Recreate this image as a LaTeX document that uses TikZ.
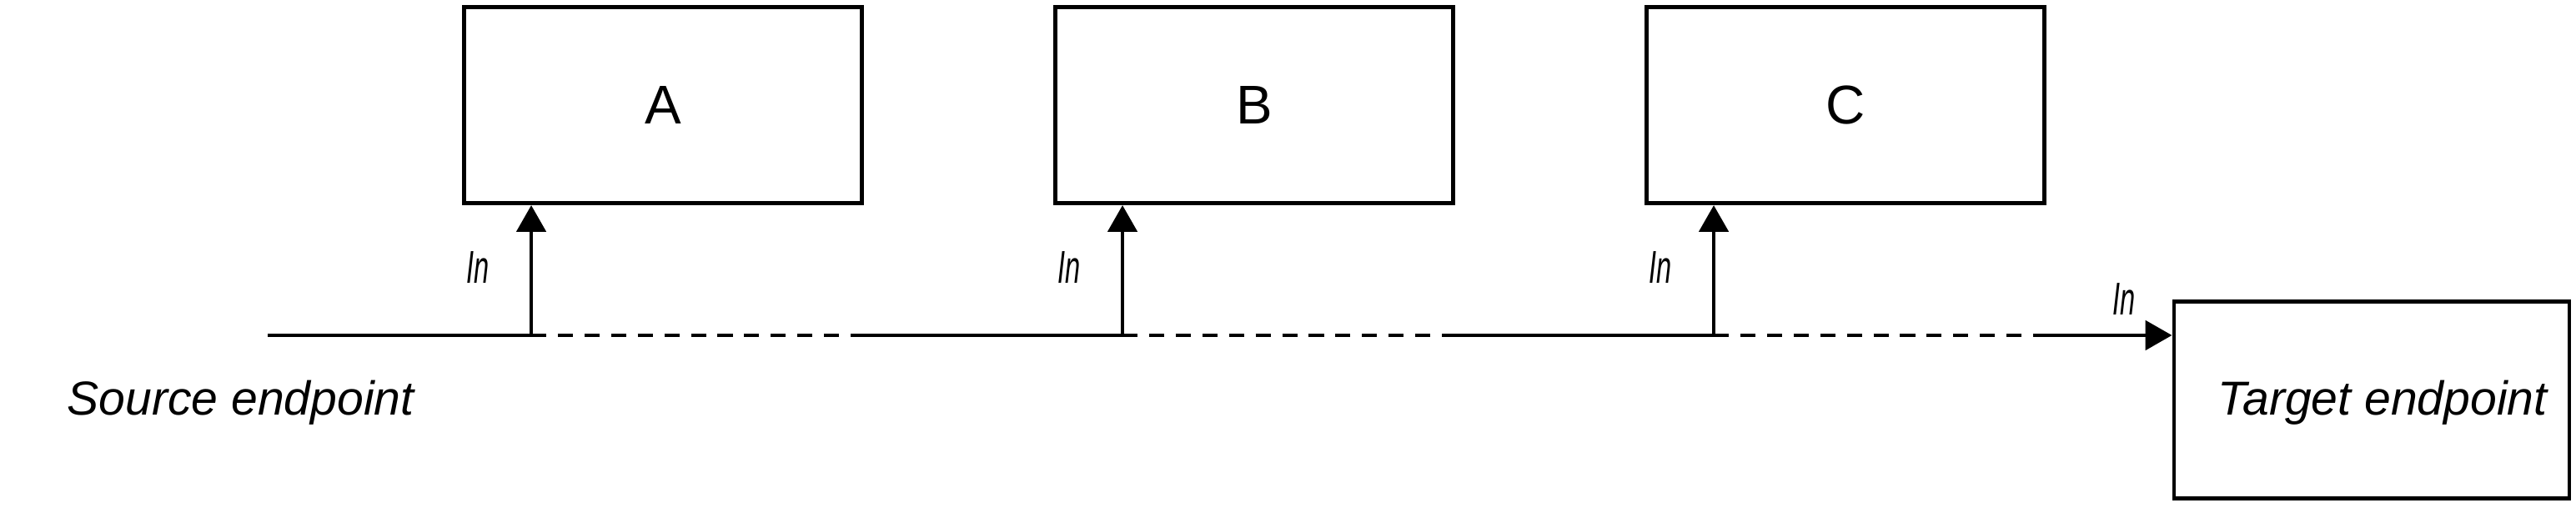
\documentclass[tikz,border=0pt]{standalone}
\usepackage{fontspec}
\setmainfont{Liberation Sans}
\newfontfamily\infont{Liberation Sans}[FakeStretch=0.59]
\usepackage{tikz}
\usetikzlibrary{arrows.meta, positioning}

\begin{document}
\begin{tikzpicture}[
          every node/.style={align=center, font=\fontsize{14.5}{17}\selectfont},
          block/.style={draw, line width=1.2pt, minimum width=4.25cm, minimum height=2.1cm, inner sep=0pt,
            font=\fontsize{16.6}{20}\selectfont},
          inlabel/.style={anchor=base, inner sep=0pt, font=\infont\itshape\fontsize{14}{16}\selectfont},
          line/.style={line width=1.2pt},
          dashline/.style={line width=1.2pt, dash pattern=on 4.6pt off 3.5pt},
          arrow/.style={-{Triangle[length=8.1pt, width=8.9pt]}, line width=1.2pt}
        ]
          \useasboundingbox (0,0) rectangle (27.557,5.424);

          % Boxes on top
          \node[block] (A) at (7.092,4.300) {A};
          \node[block] (B) at (13.417,4.300) {B};
          \node[block] (C) at (19.742,4.300) {C};

          % Endpoints
          \node[anchor=base] (src) at (2.574,0.99) {\itshape Source endpoint};
          \node[block, minimum width=4.23cm] (target) at (25.371,1.146) {};
          \node[anchor=base] (tgt) at (25.487,0.99) {\itshape Target endpoint};

          % Points on the line
          \coordinate (start) at (2.864,1.838);
          \coordinate (j1) at (5.683,1.838);
          \coordinate (d1) at (9.117,1.838);
          \coordinate (j2) at (12.008,1.838);
          \coordinate (d2) at (15.442,1.838);
          \coordinate (j3) at (18.333,1.838);
          \coordinate (d3) at (21.767,1.838);

          % Line
          \draw[line] (start) -- (j1);
          \draw[dashline] (j1) -- (d1);
          \draw[line] (d1) -- (j2);
          \draw[dashline] (j2) -- (d2);
          \draw[line] (d2) -- (j3);
          \draw[dashline] (j3) -- (d3);

          % Arrows
          \draw[arrow] (j1) -- (j1 |- A.south);
          \draw[arrow] (j2) -- (j2 |- B.south);
          \draw[arrow] (j3) -- (j3 |- C.south);
          \draw[arrow] (d3) -- (target.west |- d3);

          % Labels
          \node[inlabel] (in1) at ([shift={(-0.571,0.553)}]j1) {In};
          \node[inlabel] (in2) at ([shift={(-0.571,0.553)}]j2) {In};
          \node[inlabel] (in3) at ([shift={(-0.571,0.553)}]j3) {In};
          \node[inlabel] (in4) at (22.72,2.052) {In};
        \end{tikzpicture}
\end{document}
